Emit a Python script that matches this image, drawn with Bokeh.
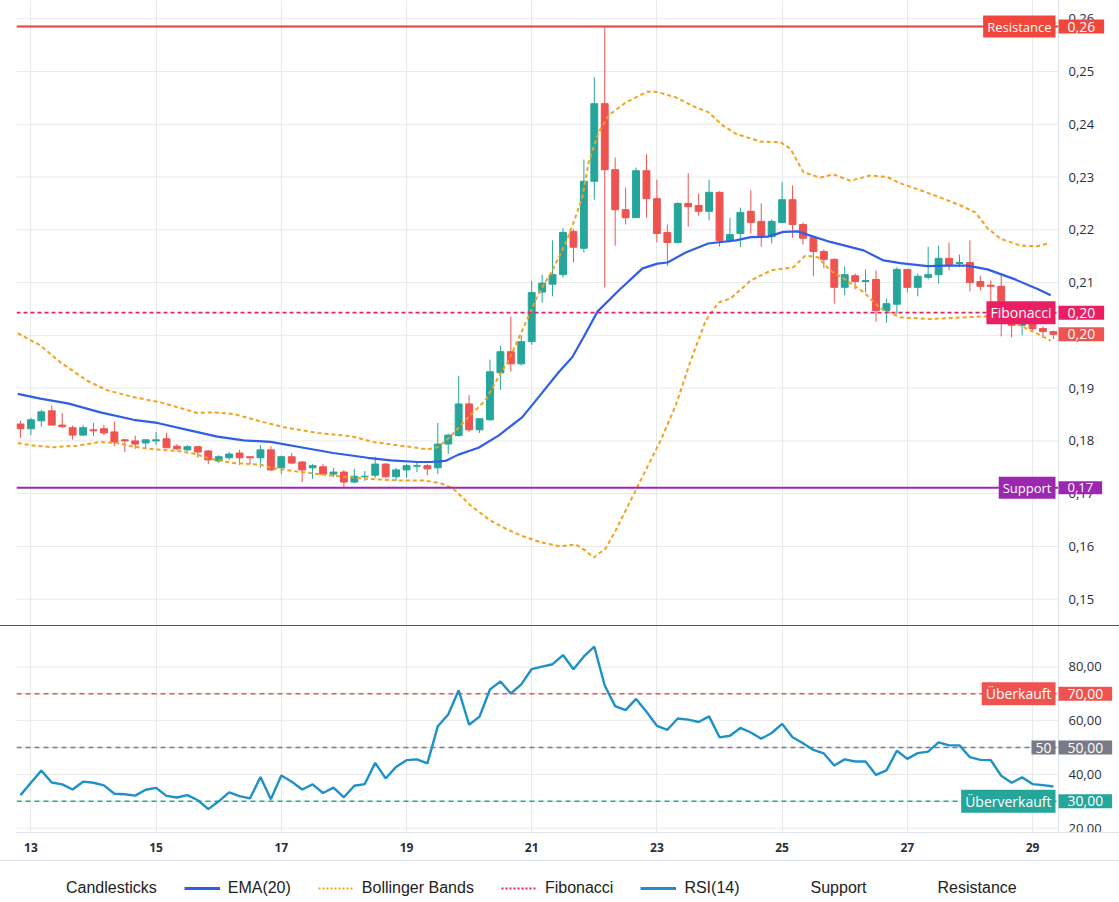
import math
from bokeh.plotting import figure
from bokeh.models import (Range1d, FixedTicker, CustomJSTickFormatter, Label, Span,
                          Legend, LegendItem, Spacer, ColumnDataSource)
from bokeh.layouts import column
from bokeh.embed import file_html
from bokeh.resources import INLINE
from bokeh.core.properties import value

# ---------------- data ----------------
start_day = 12 + 20 / 24          # first 4h candle: 12th, 20:00
interval = 4 / 24                 # 4 hour candles

opens = [
    0.1832, 0.1823, 0.1838, 0.1857, 0.1830, 0.1825, 0.1811, 0.1821, 0.1823, 0.1817,
    0.1802, 0.1800, 0.1796, 0.1800, 0.1804, 0.1790, 0.1783, 0.1789, 0.1781, 0.1762,
    0.1768, 0.1777, 0.1770, 0.1768, 0.1783, 0.1749, 0.1770, 0.1760, 0.1749, 0.1751,
    0.1737, 0.1741, 0.1722, 0.1732, 0.1735, 0.1756, 0.1732, 0.1745, 0.1752, 0.1753,
    0.1749, 0.1794, 0.1810, 0.1870, 0.1821, 0.1840, 0.1929, 0.1969, 0.1946, 0.1988,
    0.2082, 0.2097, 0.2115, 0.2197, 0.2165, 0.2292, 0.2439, 0.2314, 0.2238, 0.2223,
    0.2312, 0.2259, 0.2195, 0.2176, 0.2250, 0.2246, 0.2235, 0.2271, 0.2180, 0.2193,
    0.2235, 0.2216, 0.2187, 0.2214, 0.2257, 0.2210, 0.2185, 0.2159, 0.2144, 0.2091,
    0.2113, 0.2102, 0.2106, 0.2047, 0.2059, 0.2125, 0.2091, 0.2110, 0.2115, 0.2146,
    0.2136, 0.2138, 0.2102, 0.2095, 0.2093, 0.2028, 0.2019, 0.2030, 0.2013, 0.2007]
highs = [
    0.1838, 0.1844, 0.1859, 0.1867, 0.1853, 0.1829, 0.1830, 0.1834, 0.1830, 0.1836,
    0.1804, 0.1810, 0.1802, 0.1817, 0.1815, 0.1794, 0.1792, 0.1790, 0.1783, 0.1773,
    0.1779, 0.1783, 0.1770, 0.1792, 0.1790, 0.1772, 0.1777, 0.1762, 0.1756, 0.1756,
    0.1749, 0.1745, 0.1747, 0.1743, 0.1770, 0.1758, 0.1749, 0.1756, 0.1760, 0.1756,
    0.1834, 0.1813, 0.1923, 0.1887, 0.1842, 0.1954, 0.1980, 0.2036, 0.2000, 0.2103,
    0.2115, 0.2180, 0.2203, 0.2201, 0.2333, 0.2489, 0.2585, 0.2337, 0.2280, 0.2318,
    0.2343, 0.2295, 0.2210, 0.2252, 0.2307, 0.2269, 0.2295, 0.2273, 0.2223, 0.2242,
    0.2275, 0.2250, 0.2220, 0.2290, 0.2284, 0.2214, 0.2187, 0.2163, 0.2146, 0.2131,
    0.2117, 0.2125, 0.2123, 0.2070, 0.2129, 0.2125, 0.2117, 0.2168, 0.2170, 0.2176,
    0.2153, 0.2180, 0.2113, 0.2104, 0.2117, 0.2038, 0.2030, 0.2034, 0.2017, 0.2009]
lows = [
    0.1806, 0.1811, 0.1827, 0.1829, 0.1825, 0.1802, 0.1809, 0.1809, 0.1811, 0.1790,
    0.1779, 0.1785, 0.1785, 0.1792, 0.1787, 0.1783, 0.1781, 0.1768, 0.1756, 0.1758,
    0.1764, 0.1754, 0.1756, 0.1749, 0.1743, 0.1737, 0.1756, 0.1722, 0.1728, 0.1735,
    0.1732, 0.1713, 0.1720, 0.1724, 0.1730, 0.1730, 0.1724, 0.1730, 0.1741, 0.1735,
    0.1737, 0.1775, 0.1808, 0.1817, 0.1815, 0.1838, 0.1897, 0.1931, 0.1943, 0.1982,
    0.2062, 0.2074, 0.2109, 0.2138, 0.2157, 0.2257, 0.2091, 0.2170, 0.2210, 0.2223,
    0.2223, 0.2176, 0.2132, 0.2174, 0.2206, 0.2227, 0.2218, 0.2168, 0.2176, 0.2167,
    0.2193, 0.2168, 0.2174, 0.2212, 0.2185, 0.2172, 0.2112, 0.2127, 0.2060, 0.2076,
    0.2087, 0.2081, 0.2026, 0.2024, 0.2040, 0.2081, 0.2074, 0.2106, 0.2098, 0.2123,
    0.2129, 0.2083, 0.2085, 0.2057, 0.1998, 0.1996, 0.2000, 0.2009, 0.1996, 0.1993]
closes = [
    0.1823, 0.1840, 0.1855, 0.1830, 0.1827, 0.1811, 0.1825, 0.1819, 0.1815, 0.1798,
    0.1800, 0.1794, 0.1802, 0.1802, 0.1787, 0.1785, 0.1789, 0.1779, 0.1764, 0.1770,
    0.1775, 0.1768, 0.1768, 0.1783, 0.1745, 0.1770, 0.1758, 0.1745, 0.1753, 0.1737,
    0.1741, 0.1722, 0.1733, 0.1733, 0.1756, 0.1732, 0.1745, 0.1753, 0.1753, 0.1747,
    0.1794, 0.1811, 0.1870, 0.1821, 0.1842, 0.1931, 0.1969, 0.1946, 0.1988, 0.2081,
    0.2099, 0.2115, 0.2195, 0.2167, 0.2292, 0.2439, 0.2314, 0.2238, 0.2223, 0.2312,
    0.2259, 0.2193, 0.2176, 0.2250, 0.2244, 0.2235, 0.2271, 0.2180, 0.2191, 0.2233,
    0.2214, 0.2187, 0.2216, 0.2257, 0.2210, 0.2184, 0.2159, 0.2144, 0.2091, 0.2115,
    0.2102, 0.2104, 0.2047, 0.2060, 0.2125, 0.2091, 0.2112, 0.2115, 0.2146, 0.2134,
    0.2138, 0.2100, 0.2093, 0.2093, 0.2028, 0.2019, 0.2027, 0.2013, 0.2007, 0.2002]

rsi = [
    32.3, 36.9, 41.4, 37.0, 36.3, 34.4, 37.3, 36.9, 35.9, 32.8,
    32.6, 32.1, 34.3, 35.0, 32.0, 31.4, 32.3, 30.4, 27.1, 30.0,
    33.3, 31.9, 31.1, 39.0, 30.8, 39.6, 37.3, 34.4, 36.3, 33.1,
    35.1, 31.5, 35.8, 36.4, 44.3, 38.5, 42.8, 45.3, 45.6, 44.1,
    57.9, 62.3, 71.3, 58.5, 61.5, 71.6, 74.6, 70.1, 73.5, 79.2,
    80.1, 81.0, 84.4, 79.1, 83.9, 87.5, 73.1, 65.4, 63.9, 68.1,
    63.3, 58.1, 56.6, 60.8, 60.4, 59.5, 61.6, 53.8, 54.4, 57.3,
    55.6, 53.3, 55.4, 58.8, 53.8, 51.6, 49.1, 47.8, 43.3, 45.6,
    44.8, 44.8, 39.8, 41.5, 48.8, 45.8, 47.9, 48.5, 51.9, 50.8,
    50.8, 46.4, 45.4, 45.3, 39.5, 36.9, 38.9, 36.4, 36.0, 35.5]

# EMA(20) (day, price)
ema_t = [12.79, 13.15, 13.59, 14.11, 14.64, 15.02, 15.50, 15.98, 16.40, 16.83,
         17.31, 17.83, 18.38, 18.75, 19.18, 19.38, 19.62, 19.83, 20.15, 20.47,
         20.85, 21.11, 21.43, 21.65, 21.83, 22.05, 22.39, 22.77, 23.01, 23.17,
         23.46, 23.82, 24.26, 24.50, 24.77, 25.02, 25.25, 25.45, 25.77, 26.30,
         26.62, 26.89, 27.32, 27.64, 27.96, 28.28, 28.70, 29.08, 29.29]
ema_v = [0.1889, 0.1880, 0.1871, 0.1854, 0.1840, 0.1834, 0.1821, 0.1808, 0.1801, 0.1798,
         0.1788, 0.1777, 0.1768, 0.1763, 0.1760, 0.1760, 0.1762, 0.1774, 0.1787, 0.1810,
         0.1845, 0.1883, 0.1930, 0.1959, 0.1997, 0.2045, 0.2085, 0.2127, 0.2136, 0.2138,
         0.2157, 0.2174, 0.2180, 0.2186, 0.2187, 0.2196, 0.2197, 0.2189, 0.2177, 0.2161,
         0.2142, 0.2137, 0.2131, 0.2132, 0.2132, 0.2125, 0.2107, 0.2088, 0.2076]

# Bollinger upper band (day, price)
bb_up_t = [12.79, 13.15, 13.47, 13.90, 14.22, 14.64, 15.07, 15.66, 15.92, 16.24,
           16.67, 17.04, 17.58, 18.11, 18.47, 18.90, 19.34, 19.50, 19.70, 19.99,
           20.26, 20.47, 20.63, 20.90, 21.11, 21.33, 21.54, 21.70, 21.81, 21.91,
           22.07, 22.23, 22.50, 22.85, 23.01, 23.30, 23.62, 23.82, 24.05, 24.26,
           24.66, 24.97, 25.13, 25.34, 25.61, 25.82, 26.09, 26.41, 26.68, 26.89,
           27.21, 27.53, 27.85, 28.09, 28.28, 28.49, 28.81, 29.08, 29.24]
bb_up_v = [0.2004, 0.1981, 0.1949, 0.1914, 0.1896, 0.1883, 0.1873, 0.1853, 0.1854, 0.1851,
           0.1837, 0.1826, 0.1815, 0.1809, 0.1798, 0.1791, 0.1784, 0.1788, 0.1808, 0.1845,
           0.1877, 0.1921, 0.1952, 0.2023, 0.2079, 0.2123, 0.2174, 0.2224, 0.2262, 0.2328,
           0.2385, 0.2417, 0.2441, 0.2462, 0.2461, 0.2451, 0.2432, 0.2423, 0.2398, 0.2382,
           0.2367, 0.2366, 0.2354, 0.2309, 0.2299, 0.2305, 0.2293, 0.2303, 0.2300, 0.2288,
           0.2275, 0.2261, 0.2246, 0.2233, 0.2203, 0.2183, 0.2170, 0.2169, 0.2174]

# Bollinger lower band (day, price)
bb_lo_t = [12.79, 13.04, 13.36, 13.74, 14.11, 14.38, 14.64, 14.96, 15.34, 15.60,
           15.87, 16.24, 16.67, 16.83, 17.31, 17.83, 18.38, 18.90, 19.27, 19.54,
           19.70, 19.78, 20.02, 20.34, 20.58, 20.82, 21.14, 21.46, 21.70, 21.86,
           21.99, 22.18, 22.34, 22.58, 22.82, 23.06, 23.30, 23.54, 23.78, 23.98,
           24.18, 24.50, 24.82, 25.18, 25.37, 25.57, 25.77, 25.98, 26.30, 26.57,
           26.89, 27.37, 27.90, 28.25, 28.57, 28.92, 29.13, 29.29]
bb_lo_v = [0.1796, 0.1791, 0.1788, 0.1791, 0.1798, 0.1796, 0.1789, 0.1784, 0.1781, 0.1776,
           0.1766, 0.1758, 0.1755, 0.1749, 0.1741, 0.1734, 0.1728, 0.1725, 0.1725, 0.1720,
           0.1712, 0.1706, 0.1678, 0.1649, 0.1634, 0.1621, 0.1608, 0.1600, 0.1604, 0.1592,
           0.1579, 0.1596, 0.1630, 0.1687, 0.1744, 0.1801, 0.1867, 0.1952, 0.2028, 0.2062,
           0.2070, 0.2104, 0.2123, 0.2129, 0.2151, 0.2148, 0.2123, 0.2108, 0.2082, 0.2051,
           0.2034, 0.2031, 0.2034, 0.2036, 0.2032, 0.2012, 0.2000, 0.1990]

resistance = 0.2585
support = 0.1711
fibonacci = 0.2043
rsi_levels = [70, 50, 30]
rsi_level_names = ["Überkauft", "50", "Überverkauft"]

day_ticks = [13, 15, 17, 19, 21, 23, 25, 27, 29]
price_ticks = [0.15, 0.16, 0.17, 0.18, 0.19, 0.20, 0.21, 0.22, 0.23, 0.24, 0.25, 0.26]
rsi_ticks = [20, 30, 40, 50, 60, 70, 80]
legend_labels = ["Candlesticks", "EMA(20)", "Bollinger Bands", "Fibonacci", "RSI(14)",
                 "Support", "Resistance"]

# ---------------- style ----------------
UP, DOWN = "#26a69a", "#ef5350"
EMA_C, BB_C, FIB_C, RSI_C = "#2f5ee8", "#f5a11c", "#e91e63", "#1e91c9"
RES_C, SUP_C = "#e0433a", "#9c27b0"
RES_TAG = "#f0463b"
GRID = "#e9e9ea"
BORDER = "#e0e3eb"
AXIS_TXT = "#2a2e39"
FONT = "Open Sans"
W = 1119
X0, X1 = 12.770, 29.415          # data area: page x 16 .. 1058
X_END = X1 + 61 / 62.6           # frame continues under the price scale up to 1119


def fmt(v):
    return f"{v:.2f}".replace(".", ",")


times = [start_day + i * interval for i in range(len(opens))]
src = ColumnDataSource(dict(
    t=times, o=opens, h=highs, l=lows, c=closes,
    top=[max(a, b) for a, b in zip(opens, closes)],
    bot=[min(a, b) for a, b in zip(opens, closes)],
    col=[UP if c >= o else DOWN for o, c in zip(opens, closes)],
))


def base_fig(height, y0, y1, bottom):
    p = figure(width=W, height=height, x_range=xr, y_range=Range1d(y0, y1),
               output_backend="svg", toolbar_location=None,
               min_border_left=16, min_border_right=0, min_border_top=0,
               min_border_bottom=bottom)
    p.outline_line_color = None
    p.background_fill_color = "white"
    p.border_fill_color = "white"
    p.yaxis.visible = False
    p.ygrid.visible = False
    p.xgrid.ticker = FixedTicker(ticks=day_ticks)
    p.xgrid.grid_line_color = GRID
    return p


def price_scale(p, ticks):
    # horizontal grid limited to the data area, and the scale's labels
    p.segment(x0=[X0] * len(ticks), x1=[X1] * len(ticks), y0=ticks, y1=ticks,
              line_color=GRID, line_width=1)
    p.add_layout(Span(location=X1, dimension="height", line_color=BORDER, line_width=1))
    p.text(x=[X1] * len(ticks), y=ticks, text=[fmt(t) for t in ticks], x_offset=10,
           text_baseline="middle", text_align="left", text_font=value(FONT),
           text_font_size=value("13px"), text_color=AXIS_TXT)


def tag(p, y, text, color, inside, size="13px"):
    lab = Label(x=X1, y=y, text=text, text_color="white", text_font=FONT,
                text_font_size=size, text_baseline="middle",
                text_align="right" if inside else "left",
                x_offset=-3 if inside else 0,
                background_fill_color=color, padding=(4, 2) if inside else (9, 2))
    p.add_layout(lab)


xr = Range1d(X0, X_END)

# ---------------- main price panel ----------------
p1 = base_fig(625, 0.14502, 0.26345, 0)
p1.xaxis.visible = False
price_scale(p1, price_ticks)

p1.segment(x0="t", y0="h", x1="t", y1="l", source=src, line_color="col", line_width=1)
p1.vbar(x="t", width=interval * 0.66, top="top", bottom="bot", source=src,
        fill_color="col", line_color="col", line_width=1)
p1.line(bb_up_t, bb_up_v, line_color=BB_C, line_width=2, line_dash="4 3")
p1.line(bb_lo_t, bb_lo_v, line_color=BB_C, line_width=2, line_dash="4 3")
p1.line(ema_t, ema_v, line_color=EMA_C, line_width=2.2)

p1.segment(x0=[X0], x1=[X1], y0=[resistance], y1=[resistance], line_color=RES_C, line_width=2)
p1.segment(x0=[X0], x1=[X1], y0=[support], y1=[support], line_color=SUP_C, line_width=2)
p1.segment(x0=[X0], x1=[X1], y0=[fibonacci], y1=[fibonacci], line_color=FIB_C,
           line_width=1.6, line_dash="4 3")

tag(p1, resistance, "Resistance", RES_TAG, True)
tag(p1, resistance, fmt(resistance), RES_TAG, False, "14px")
tag(p1, fibonacci, "Fibonacci", FIB_C, True, "14px")
tag(p1, fibonacci, fmt(fibonacci), FIB_C, False, "14px")
tag(p1, closes[-1], fmt(closes[-1]), DOWN, False, "14px")
tag(p1, support, "Support", SUP_C, True)
tag(p1, support, fmt(support), SUP_C, False)

# ---------------- RSI panel ----------------
p2 = base_fig(234, 18.39, 95.03, 28)
price_scale(p2, rsi_ticks)
xa = p2.xaxis[0]
xa.ticker = FixedTicker(ticks=day_ticks)
xa.formatter = CustomJSTickFormatter(code="return tick.toFixed(0);")
xa.axis_line_color = BORDER
xa.major_tick_line_color = None
xa.minor_tick_line_color = None
xa.major_label_text_font = FONT
xa.major_label_text_font_size = "12px"
xa.major_label_text_font_style = "bold"
xa.major_label_text_color = AXIS_TXT
xa.major_label_standoff = 4

level_colors = ["#ef5350", "#787b86", "#26a69a"]
for lv, col in zip(rsi_levels, level_colors):
    p2.segment(x0=[X0], x1=[X1], y0=[lv], y1=[lv], line_color=col, line_width=1.6,
               line_dash="5 4")
p2.line(times, rsi, line_color=RSI_C, line_width=2.4)
for lv, name, col in zip(rsi_levels, rsi_level_names, level_colors):
    tag(p2, lv, name, col, True, "14px")
    tag(p2, lv, fmt(lv), col, False, "14px")

# ---------------- legend strip ----------------
p3 = figure(width=W, height=39, x_range=Range1d(0, 1), y_range=Range1d(0, 1),
            output_backend="svg", toolbar_location=None,
            min_border_left=16, min_border_right=0, min_border_top=0, min_border_bottom=0)
p3.axis.visible = False
p3.grid.visible = False
p3.outline_line_color = None
nan = [math.nan]
r_candle = p3.line(nan, nan, line_alpha=0)
r_ema = p3.line(nan, nan, line_color=EMA_C, line_width=3)
r_bb = p3.line(nan, nan, line_color=BB_C, line_width=2, line_dash="2 2")
r_fib = p3.line(nan, nan, line_color=FIB_C, line_width=2, line_dash="2 2")
r_rsi = p3.line(nan, nan, line_color=RSI_C, line_width=3)
r_sup = p3.line(nan, nan, line_alpha=0)
r_res = p3.line(nan, nan, line_alpha=0)
rends = [r_candle, r_ema, r_bb, r_fib, r_rsi, r_sup, r_res]
legend = Legend(items=[LegendItem(label=lb, renderers=[r]) for lb, r in zip(legend_labels, rends)],
                orientation="horizontal", location=(6, 3), glyph_width=36, glyph_height=18,
                label_standoff=8, spacing=27, padding=0, margin=0,
                border_line_color=None, background_fill_alpha=0,
                label_text_font="Liberation Sans", label_text_font_size="16px",
                label_text_color="#222222")
p3.add_layout(legend, "center")

sep1 = Spacer(width=W, height=1, styles={"background-color": "#50535e"})
sep2 = Spacer(width=W, height=1, styles={"background-color": BORDER})

layout = column(p1, sep1, p2, sep2, p3, spacing=0)
open("out.html", "w").write(file_html(layout, INLINE))
